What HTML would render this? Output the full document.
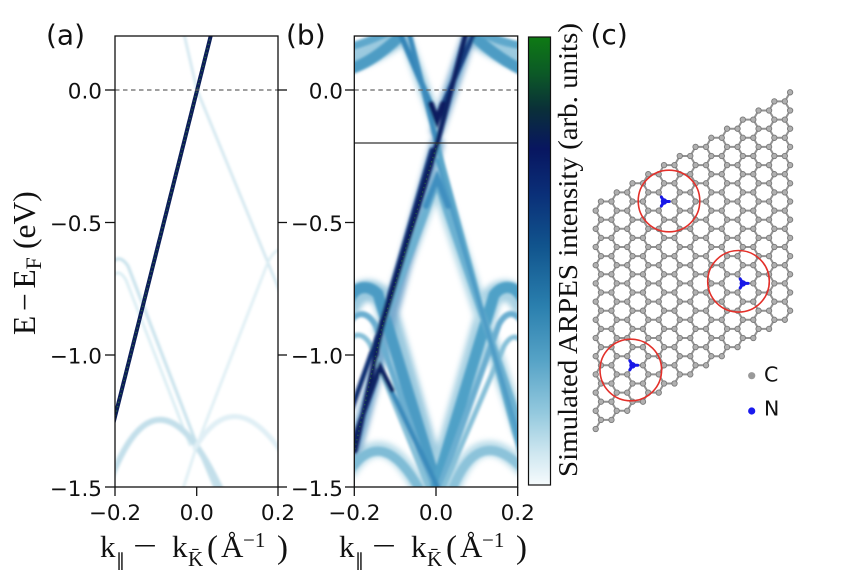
<!DOCTYPE html>
<html><head><meta charset="utf-8">
<style>
html,body{margin:0;padding:0;background:#fff;}
svg{display:block;}
.tk{font-family:"DejaVu Sans","Liberation Sans",sans-serif;font-size:21.5px;fill:#111;}
.pl{font-family:"DejaVu Sans","Liberation Sans",sans-serif;font-size:28px;fill:#111;}
.sr{font-family:"Liberation Serif","DejaVu Serif",serif;fill:#111;}
</style></head><body>
<svg width="865" height="587" viewBox="0 0 865 587" xmlns="http://www.w3.org/2000/svg">
<defs>
 <clipPath id="ca"><rect x="115" y="36" width="163" height="451"/></clipPath>
 <clipPath id="cb"><rect x="354.3" y="36" width="163.4" height="451"/></clipPath>
 <filter id="soft" x="-10%" y="-10%" width="120%" height="120%"><feGaussianBlur stdDeviation="1.2"/></filter>
 <filter id="halo" x="-10%" y="-10%" width="120%" height="120%"><feGaussianBlur stdDeviation="3"/></filter>
 <linearGradient id="cbar" x1="0" y1="0" x2="0" y2="1">
  <stop offset="0" stop-color="#0e7a14"/>
  <stop offset="0.08" stop-color="#0c5a26"/>
  <stop offset="0.16" stop-color="#0a3038"/>
  <stop offset="0.25" stop-color="#081660"/>
  <stop offset="0.35" stop-color="#0a2f78"/>
  <stop offset="0.47" stop-color="#11558e"/>
  <stop offset="0.6" stop-color="#2a7fae"/>
  <stop offset="0.72" stop-color="#55a2c6"/>
  <stop offset="0.84" stop-color="#94c9de"/>
  <stop offset="0.93" stop-color="#cfe7f0"/>
  <stop offset="1" stop-color="#f6fbfd"/>
 </linearGradient>
</defs>

<!-- ===== Panel (a) data ===== -->
<g clip-path="url(#ca)">
 <g filter="url(#soft)" fill="none" stroke-linecap="round">
  <path d="M184,34 L197,90 L280,292" stroke="#cfe5ee" stroke-width="2.5"/>
  <path d="M113,262 Q120,254 128,266 L197,445 L218,495" stroke="#c6e1eb" stroke-width="3"/>
  <path d="M113,276 Q119,268 126,280 L190,445" stroke="#d6ebf2" stroke-width="2.5"/>
  <path d="M280,250 Q274,250 268,262 L197,445 L182,492" stroke="#dbedf3" stroke-width="2.5"/>
  <path d="M112,476 Q160,356 222,492" stroke="#c3dfea" stroke-width="6"/>
  <path d="M195,448 Q233,384 280,450" stroke="#e0eff5" stroke-width="5"/>
 </g>
 <line x1="113" y1="424.7" x2="211.7" y2="32" stroke="#0b1d58" stroke-width="4"/>
 <line x1="113" y1="424.7" x2="211.7" y2="32" stroke="#2f7a3a" stroke-width="1.4" stroke-dasharray="1.2 3.3" opacity="0.8"/>
</g>

<!-- ===== Panel (b) data ===== -->
<g clip-path="url(#cb)">
 <!-- wide soft halo layer -->
 <g filter="url(#halo)" fill="none" stroke-linecap="round" opacity="0.75">
  <path d="M350,60 Q372,55 398,36" stroke="#7ab8d4" stroke-width="22"/>
  <path d="M476,36 Q498,52 522,60" stroke="#7ab8d4" stroke-width="22"/>
  <path d="M350,305 C358,288 372,286 384,300 L437,486" stroke="#7ab8d4" stroke-width="22"/>
  <path d="M522,305 C514,288 500,286 490,300 L437,486" stroke="#8cc3da" stroke-width="22"/>
  <path d="M350,470 Q383,420 420,490" stroke="#a6d2e3" stroke-width="16"/>
  <path d="M452,490 Q478,420 522,468" stroke="#a6d2e3" stroke-width="16"/>
  <path d="M437,180 L520,430" stroke="#9ccde0" stroke-width="16"/>
  <path d="M437,180 L380,330" stroke="#9ccde0" stroke-width="14"/>
  <path d="M437,144 L352,460" stroke="#4e8fbf" stroke-width="14"/>
  <path d="M437,130 L470,33" stroke="#4e8fbf" stroke-width="14"/>
  <path d="M404,33 L437,125" stroke="#8cc3da" stroke-width="12"/>
 </g>
 <g filter="url(#soft)" fill="none" stroke-linecap="round">
  <!-- top arcs -->
  <path d="M350,69 Q372,62 398,38" stroke="#4d9cc4" stroke-width="11"/>
  <path d="M350,47 Q368,42 386,33" stroke="#5ea8cc" stroke-width="8"/>
  <path d="M476,38 Q498,58 522,70" stroke="#4d9cc4" stroke-width="11"/>
  <path d="M482,33 Q500,42 522,46" stroke="#5ea8cc" stroke-width="8"/>
  <!-- left dome and arms to bottom V -->
  <path d="M350,298 C356,286 368,284 378,294 L437,486" stroke="#4b9bc4" stroke-width="11"/>
  <path d="M350,322 C358,310 368,312 376,326 L432,486" stroke="#6aaed0" stroke-width="6"/>
  <path d="M350,340 C356,332 364,334 370,344 L428,486" stroke="#86c0d8" stroke-width="5"/>
  <!-- right dome and arms to bottom V -->
  <path d="M522,298 C515,285 503,284 494,295 L436,486" stroke="#4fa1c7" stroke-width="11"/>
  <path d="M522,322 C514,310 506,312 499,324 L440,486" stroke="#6aaed0" stroke-width="6"/>
  <path d="M522,342 C516,334 510,336 504,346 L444,486" stroke="#86c0d8" stroke-width="5"/>
  <!-- bottom domes -->
  <path d="M350,470 Q383,424 420,490" stroke="#7fbcd6" stroke-width="9"/>
  <path d="M452,490 Q478,424 522,468" stroke="#8cc3da" stroke-width="9"/>
  <!-- arms descending right from centre -->
  <path d="M437,182 L520,425" stroke="#6cb1d1" stroke-width="7"/>
  <path d="M437,144 L520,452" stroke="#5aa6c9" stroke-width="5"/>
  <path d="M437,160 L520,440" stroke="#4e9bc6" stroke-width="3.5"/>
  <!-- ∧ at (437,182) left arm and peak -->
  <path d="M437,182 L384,320" stroke="#6cb1d1" stroke-width="7"/>
  <path d="M426,206 L437,178 L448,206" stroke="#3f8fc0" stroke-width="6"/>
  <!-- V left arm & X upper-left -->
  <path d="M400,33 L437,119" stroke="#3585b8" stroke-width="5.5"/>
  <path d="M409,33 L437,143" stroke="#3a8abb" stroke-width="5"/>
  <!-- dark ∧ right arm -->
  <path d="M380,367 L437,486" stroke="#3b8bbc" stroke-width="5"/>
  <!-- dark lines -->
  <path d="M437,119 L474,33" stroke="#133c80" stroke-width="5"/>
  <path d="M431,104 L437,120 L443,104" stroke="#0b1f60" stroke-width="6"/>
  <path d="M437,144 L466,33" stroke="#0b2063" stroke-width="5"/>
  <path d="M432,150 L378,335 L352,408" stroke="#0e2d72" stroke-width="5"/>
  <path d="M437,144 L382,327 L355,451" stroke="#0a1d5c" stroke-width="5"/>
  <path d="M352,445 L380,367 L392,390" stroke="#0b2163" stroke-width="5"/>
 </g>
 <path d="M437,144 L382,327 L352,462" fill="none" stroke="#2f7a3a" stroke-width="1.3" stroke-dasharray="1.2 3.3" opacity="0.7"/>
</g>

<!-- reference lines -->
<line x1="115" y1="90" x2="278" y2="90" stroke="#666" stroke-width="1.3" stroke-dasharray="4.5 3.5"/>
<line x1="354.3" y1="90" x2="517.7" y2="90" stroke="#666" stroke-width="1.3" stroke-dasharray="4.5 3.5"/>
<line x1="354.3" y1="143" x2="517.7" y2="143" stroke="#333" stroke-width="1.3"/>

<!-- spines -->
<rect x="115" y="36" width="163" height="451" fill="none" stroke="#111" stroke-width="1.3"/>
<rect x="354.3" y="36" width="163.4" height="451" fill="none" stroke="#111" stroke-width="1.3"/>

<!-- ticks -->
<g stroke="#111" stroke-width="1.3">
 <line x1="105" y1="90" x2="115" y2="90"/><line x1="105" y1="222.5" x2="115" y2="222.5"/>
 <line x1="105" y1="355" x2="115" y2="355"/><line x1="105" y1="487" x2="115" y2="487"/>
 <line x1="278" y1="90" x2="287" y2="90"/><line x1="278" y1="222.5" x2="287" y2="222.5"/>
 <line x1="278" y1="355" x2="287" y2="355"/><line x1="278" y1="487" x2="287" y2="487"/>
 <line x1="115" y1="487" x2="115" y2="496"/><line x1="196.7" y1="487" x2="196.7" y2="496"/><line x1="278" y1="487" x2="278" y2="496"/>
 <line x1="345" y1="90" x2="354.3" y2="90"/><line x1="345" y1="222.5" x2="354.3" y2="222.5"/>
 <line x1="345" y1="355" x2="354.3" y2="355"/><line x1="345" y1="487" x2="354.3" y2="487"/>
 <line x1="354.3" y1="487" x2="354.3" y2="496"/><line x1="436" y1="487" x2="436" y2="496"/><line x1="517.7" y1="487" x2="517.7" y2="496"/>
</g>

<!-- tick labels -->
<g class="tk" text-anchor="end">
 <text x="102" y="98.3">0.0</text><text x="102" y="230.8">−0.5</text>
 <text x="102" y="363.3">−1.0</text><text x="102" y="495.8">−1.5</text>
 <text x="343" y="98.3">0.0</text><text x="343" y="230.8">−0.5</text>
 <text x="343" y="363.3">−1.0</text><text x="343" y="495.8">−1.5</text>
</g>
<g class="tk" text-anchor="middle">
 <text x="115" y="520">−0.2</text><text x="196.7" y="520">0.0</text><text x="278" y="520">0.2</text>
 <text x="354.3" y="520">−0.2</text><text x="436" y="520">0.0</text><text x="517.7" y="520">0.2</text>
</g>

<!-- y axis label -->
<g transform="translate(35,335) rotate(-90)" class="sr" font-size="31.5">
 <text x="0" y="0">E</text>
 <text x="24" y="0">−</text>
 <text x="46.5" y="0">E</text>
 <text x="65.7" y="6" font-size="22">F</text>
 <text x="86" y="0">(eV)</text>
</g>

<!-- x axis labels -->
<g class="sr">
 <text x="100" y="557" font-size="31">k</text>
 <text x="116" y="566" font-size="18" font-family="DejaVu Serif, serif">‖</text>
 <text x="133" y="556" font-size="31" textLength="24" lengthAdjust="spacingAndGlyphs">−</text>
 <text x="172" y="557" font-size="31">k</text>
 <text x="188" y="566" font-size="21">K̄</text>
 <text x="207" y="558" font-size="33">(</text>
 <text x="221" y="557" font-size="31">Å</text>
 <text x="243" y="547" font-size="21">−1</text>
 <text x="277" y="558" font-size="33">)</text>

 <text x="339" y="557" font-size="31">k</text>
 <text x="355" y="566" font-size="18" font-family="DejaVu Serif, serif">‖</text>
 <text x="372" y="556" font-size="31" textLength="24" lengthAdjust="spacingAndGlyphs">−</text>
 <text x="411" y="557" font-size="31">k</text>
 <text x="427" y="566" font-size="21">K̄</text>
 <text x="446" y="558" font-size="33">(</text>
 <text x="460" y="557" font-size="31">Å</text>
 <text x="482" y="547" font-size="21">−1</text>
 <text x="516" y="558" font-size="33">)</text>
</g>

<!-- colorbar -->
<rect x="528.5" y="37" width="22" height="448" fill="url(#cbar)" stroke="#111" stroke-width="1.2"/>
<text class="sr" transform="translate(577,250) rotate(-90)" x="-227" y="0" font-size="27.5" textLength="454" lengthAdjust="spacingAndGlyphs">Simulated ARPES intensity (arb. units)</text>

<!-- panel labels -->
<text class="pl" x="46" y="44.5">(a)</text>
<text class="pl" x="286" y="44.5">(b)</text>
<text class="pl" x="590.5" y="44">(c)</text>

<!-- panel (c) lattice -->
<g id="lat"></g>
<g fill="none" stroke="#e3302a" stroke-width="1.6">
 <circle cx="669" cy="201" r="30.8"/>
 <circle cx="738.5" cy="281.3" r="30.8"/>
 <circle cx="630.8" cy="370" r="30.8"/>
</g>

<!-- legend -->
<circle cx="751.7" cy="375.7" r="3.6" fill="#999"/>
<circle cx="751.7" cy="411" r="3.6" fill="#1a1aee"/>
<text x="764" y="381.7" font-family="DejaVu Sans, Liberation Sans, sans-serif" font-size="20.5" fill="#111">C</text>
<text x="764" y="415.5" font-family="DejaVu Sans, Liberation Sans, sans-serif" font-size="20.5" fill="#111">N</text>
</svg>

<script>
(function(){
var NS="http://www.w3.org/2000/svg",g=document.getElementById("lat");
var a=18.2,N=13,hx=a*Math.sqrt(3)/2,ox=590.45,oy=438.1;
function P(u,v){return [ox+u*hx, oy-u*a/2-v*a];}
var A=[],B=[],i,j;
for(i=0;i<N;i++){A[i]=[];B[i]=[];for(j=0;j<N;j++){A[i][j]=P(i+2/3,j+2/3);B[i][j]=P(i+1/3,j+1/3);}}
var T=[[669,201],[738.5,281.3],[630.8,370]],isN={},Nl=[];
T.forEach(function(t){var bi=0,bj=0,bd=1e9;for(var x=0;x<N;x++)for(var y=0;y<N;y++){var p=A[x][y],d=Math.pow(p[0]-t[0],2)+Math.pow(p[1]-t[1],2);if(d<bd){bd=d;bi=x;bj=y;}}isN[bi+","+bj]=1;Nl.push(A[bi][bj]);});
function f(n){return n.toFixed(2);}
var gd="",bl="";
for(i=0;i<N;i++)for(j=0;j<N;j++){(function(i,j){var p=A[i][j];[[i,j],[i+1,j],[i,j+1]].forEach(function(q){if(q[0]<N&&q[1]<N){var b=B[q[0]][q[1]];if(isN[i+","+j]){var m=[(p[0]+b[0])/2,(p[1]+b[1])/2];gd+="M"+f(m[0])+","+f(m[1])+"L"+f(b[0])+","+f(b[1]);bl+="M"+f(p[0])+","+f(p[1])+"L"+f(m[0])+","+f(m[1]);}else{gd+="M"+f(p[0])+","+f(p[1])+"L"+f(b[0])+","+f(b[1]);}}});})(i,j);}
function el(n,at){var e=document.createElementNS(NS,n);for(var k in at)e.setAttribute(k,at[k]);g.appendChild(e);return e;}
el("path",{d:gd,stroke:"#929292","stroke-width":"2","fill":"none"});
var r=2.7,cs="";
for(i=0;i<N;i++)for(j=0;j<N;j++){[A[i][j],B[i][j]].forEach(function(p){cs+="M"+f(p[0]-r)+","+f(p[1])+"a"+r+","+r+" 0 1,0 "+(2*r)+",0a"+r+","+r+" 0 1,0 "+(-2*r)+",0";});}
el("path",{d:cs,fill:"#b0b0b0",stroke:"#7a7a7a","stroke-width":"0.9"});
el("path",{d:bl,stroke:"#1818e8","stroke-width":"3","fill":"none","stroke-linecap":"round"});
Nl.forEach(function(p){el("circle",{cx:f(p[0]),cy:f(p[1]),r:"3.2",fill:"#1818e8"});});
})();
</script>
</body></html>
